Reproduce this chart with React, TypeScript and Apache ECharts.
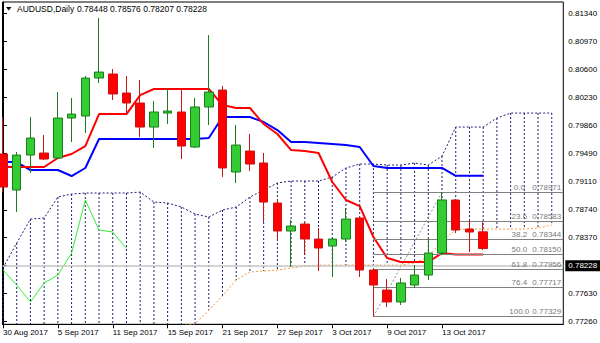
import React, { useEffect, useRef } from "react";
import * as echarts from "echarts";

const symbolName = "AUDUSD,Daily";

const dates = [
  "30 Aug 2017", "31 Aug 2017", "1 Sep 2017", "4 Sep 2017", "5 Sep 2017", "6 Sep 2017",
  "7 Sep 2017", "8 Sep 2017", "11 Sep 2017", "12 Sep 2017", "13 Sep 2017", "14 Sep 2017",
  "15 Sep 2017", "18 Sep 2017", "19 Sep 2017", "20 Sep 2017", "21 Sep 2017", "22 Sep 2017",
  "25 Sep 2017", "26 Sep 2017", "27 Sep 2017", "28 Sep 2017", "29 Sep 2017", "2 Oct 2017",
  "3 Oct 2017", "4 Oct 2017", "5 Oct 2017", "6 Oct 2017", "9 Oct 2017", "10 Oct 2017",
  "11 Oct 2017", "12 Oct 2017", "13 Oct 2017", "16 Oct 2017", "17 Oct 2017", "18 Oct 2017",
];

const opens = [
  0.79477, 0.79001, 0.79463, 0.7949, 0.79424, 0.79952, 0.79979, 0.80481, 0.80534, 0.80283,
  0.80151, 0.79833, 0.80018, 0.80032, 0.79569, 0.80098, 0.80322, 0.79239, 0.79516, 0.79358,
  0.78829, 0.78459, 0.78551, 0.78353, 0.78261, 0.78353, 0.78631, 0.77943, 0.77679, 0.77521,
  0.77745, 0.77877, 0.78168, 0.78869, 0.78485, 0.78448,
];
const closes = [
  0.7904, 0.79463, 0.79688, 0.7941, 0.79952, 0.80005, 0.80481, 0.8056, 0.8027, 0.80151,
  0.79833, 0.80032, 0.80045, 0.79582, 0.80098, 0.80296, 0.79292, 0.79595, 0.79344, 0.78842,
  0.78459, 0.78525, 0.78353, 0.78234, 0.78353, 0.78617, 0.77943, 0.77745, 0.77521, 0.77772,
  0.77877, 0.78168, 0.78869, 0.78472, 0.78446, 0.78228,
];
const lows = [
  0.78974, 0.7871, 0.79225, 0.79397, 0.7941, 0.79635, 0.79754, 0.80415, 0.8019, 0.80018,
  0.79701, 0.79556, 0.79873, 0.7941, 0.79556, 0.7986, 0.79173, 0.79093, 0.79252, 0.78578,
  0.78353, 0.77983, 0.78142, 0.7793, 0.77851, 0.78313, 0.77851, 0.77329, 0.77454, 0.77481,
  0.77705, 0.77811, 0.78142, 0.78432, 0.78181, 0.78207,
];
const highs = [
  0.79966, 0.79503, 0.79966, 0.79728, 0.80296, 0.80217, 0.80508, 0.81274, 0.806, 0.80508,
  0.80455, 0.80177, 0.80349, 0.80349, 0.80217, 0.81049, 0.80375, 0.7986, 0.79741, 0.7949,
  0.78882, 0.78604, 0.78578, 0.78499, 0.78366, 0.78763, 0.78644, 0.7797, 0.77824, 0.77838,
  0.78009, 0.78366, 0.78971, 0.78882, 0.78604, 0.78576,
];

const tenkan = [
  0.79305, 0.79305, 0.79305, 0.79305, 0.79424, 0.79477, 0.79582, 0.80005, 0.80005, 0.80005,
  0.80256, 0.80336, 0.80336, 0.80336, 0.80336, 0.80336, 0.80124, 0.80085, 0.80085, 0.79873,
  0.79741, 0.79529, 0.79516, 0.7949, 0.79107, 0.78869, 0.78789, 0.7838, 0.78102, 0.78049,
  0.78049, 0.78049, 0.78168, 0.7815, 0.7815, 0.7815,
];
const kijun = [
  0.79371, 0.79371, 0.79265, 0.79265, 0.79265, 0.79186, 0.79292, 0.79675, 0.79675, 0.79675,
  0.79675, 0.79675, 0.79675, 0.79675, 0.79675, 0.79688, 0.79966, 0.79966, 0.79966, 0.799,
  0.79794, 0.79635, 0.79635, 0.79622, 0.79609, 0.79595, 0.79569, 0.79318, 0.79292, 0.79292,
  0.79292, 0.79292, 0.79292, 0.79189, 0.79189, 0.79189,
];
const spanA = [
  0.7797, 0.783, 0.78617, 0.78631, 0.78908, 0.78948, 0.78961, 0.78961, 0.78961, 0.78961,
  0.78974, 0.78842, 0.78829, 0.78776, 0.78684, 0.78644, 0.78736, 0.78776, 0.78908, 0.79001,
  0.79093, 0.7912, 0.7912, 0.7912, 0.79173, 0.79292, 0.79344, 0.79344, 0.79331, 0.79331,
  0.79358, 0.79331, 0.7945, 0.79833, 0.79833, 0.79833, 0.79952, 0.80018, 0.80018, 0.80018,
  0.80018,
];
const spanB = [
  0.77, 0.77, 0.77, 0.77, 0.7705, 0.7705, 0.771, 0.771, 0.7712, 0.7712,
  0.7715, 0.7718, 0.772, 0.7721, 0.7723, 0.77415, 0.776, 0.77811, 0.77917, 0.7793,
  0.77943, 0.7797, 0.77996, 0.78009, 0.78009, 0.78009, 0.78009, 0.78009, 0.78009, 0.78009,
  0.78036, 0.78115, 0.78327, 0.78472, 0.78485, 0.78485, 0.78485, 0.78485, 0.78485, 0.78499,
  0.78538,
];
const chikouShift = 26;

const yTickValues = [0.7726, 0.7763, 0.78, 0.7837, 0.7874, 0.7911, 0.7949, 0.7986, 0.8023, 0.806, 0.8097, 0.8134];
const xLabelIndices = [0, 4, 8, 12, 16, 20, 24, 28, 32];

const fibLevels = ["0.0", "23.6", "38.2", "50.0", "61.8", "76.4", "100.0"];
const fibPrices = [0.78971, 0.78583, 0.78344, 0.7815, 0.77956, 0.77717, 0.77329];
const fibLowIndex = 27;
const fibHighIndex = 32;

const X_MIN = -0.036;
const X_MAX = 40.84;
const Y_MIN = 0.77226;
const Y_MAX = 0.81486;

export default function App() {
  const ref = useRef<HTMLDivElement>(null);
  useEffect(() => {
    const chart = echarts.init(ref.current!, null, { renderer: "svg" });
    const font = "'Liberation Sans', Arial, sans-serif";
    const n = dates.length;
    const last = n - 1;
    const lastPrice = closes[last];
    const candleData = dates.map((_, i) => [i, opens[i], closes[i], lows[i], highs[i]]);
    const cloudData = spanA.map((a, i) => [i, a, spanB[i]]);
    const chikouData = closes.slice(chikouShift).map((c, k) => [k, c]);
    const titleVals = [opens[last], highs[last], lows[last], closes[last]].map((v) => v.toFixed(5)).join(" ");

    chart.setOption({
      animation: false,
      backgroundColor: "#ffffff",
      grid: {
        left: 2.5,
        top: 2,
        right: 36.7,
        bottom: 18.7,
        containLabel: false,
        outerBoundsMode: "none",
        show: true,
        borderColor: "#000",
        borderWidth: 1,
      },
      graphic: [
        { type: "polygon", shape: { points: [[6, 7], [11.5, 7], [8.75, 10.5]] }, style: { fill: "#000" } },
        {
          type: "text",
          x: 17,
          y: 9,
          style: { text: symbolName, fontSize: 8.5, fontFamily: font, fill: "#000", verticalAlign: "middle" },
        },
        {
          type: "text",
          x: 77,
          y: 9,
          style: { text: titleVals, fontSize: 8.5, fontFamily: font, fill: "#000", verticalAlign: "middle" },
        },
      ],
      xAxis: {
        type: "value",
        min: X_MIN,
        max: X_MAX,
        axisLine: { show: true, lineStyle: { color: "#000" } },
        axisTick: { show: true, customValues: xLabelIndices, length: 4, lineStyle: { color: "#000" } },
        axisLabel: {
          customValues: xLabelIndices,
          formatter: (v: number) => dates[Math.round(v)] ?? "",
          align: "left",
          margin: 4,
          fontSize: 8,
          fontFamily: font,
          color: "#000",
        },
        splitLine: { show: false },
      },
      yAxis: {
        type: "value",
        position: "right",
        min: Y_MIN,
        max: Y_MAX,
        axisLine: { show: true, lineStyle: { color: "#000" } },
        axisTick: { show: true, customValues: yTickValues, length: 4, lineStyle: { color: "#000" } },
        axisLabel: {
          customValues: yTickValues,
          formatter: (v: number) => v.toFixed(5),
          margin: 5,
          fontSize: 8,
          fontFamily: font,
          color: "#000",
        },
        splitLine: { show: false },
      },
      series: [
        {
          type: "custom",
          name: "kumo",
          z: 1,
          silent: true,
          data: cloudData,
          encode: { x: 0, y: [1, 2] },
          renderItem: (params: any, api: any) => {
            const i = api.value(0);
            const p1 = api.coord([i, api.value(1)]);
            const p2 = api.coord([i, api.value(2)]);
            const cs = params.coordSys;
            if (p1[0] < cs.x || p1[0] > cs.x + cs.width) return null;
            const clamp = (y: number) => Math.max(cs.y, Math.min(cs.y + cs.height, y));
            return {
              type: "line",
              shape: { x1: p1[0], y1: clamp(p1[1]), x2: p1[0], y2: clamp(p2[1]) },
              style: { stroke: "#1c1c7a", lineWidth: 1, lineDash: [2, 2] },
            };
          },
        },
        {
          type: "line",
          name: "Senkou A",
          z: 2,
          data: spanA.map((v, i) => [i, v]),
          showSymbol: false,
          symbol: "none",
          lineStyle: { color: "#1c1c7a", width: 1, type: [2, 2] },
        },
        {
          type: "line",
          name: "Senkou B",
          z: 2,
          data: spanB.map((v, i) => [i, v]),
          showSymbol: false,
          symbol: "none",
          lineStyle: { color: "#f59a3c", width: 1, type: [2, 2] },
        },
        {
          type: "line",
          name: "Fibo",
          z: 3,
          data: [
            [fibLowIndex, lows[fibLowIndex]],
            [fibHighIndex, highs[fibHighIndex]],
          ],
          showSymbol: false,
          symbol: "none",
          lineStyle: { color: "#8a8a8a", width: 1, type: [2, 2] },
          markLine: {
            silent: true,
            symbol: ["none", "none"],
            animation: false,
            lineStyle: { color: "#808080", width: 1, type: "solid" },
            label: {
              show: true,
              position: "insideEndTop",
              distance: [2, 1],
              formatter: (p: any) =>
                `{a|${fibLevels[p.dataIndex]}}{b|${fibPrices[p.dataIndex].toFixed(5)}}`,
              rich: {
                a: { width: 26, align: "center", fontSize: 8, fontFamily: font, color: "#7a7a7a" },
                b: { width: 29, align: "left", fontSize: 8, fontFamily: font, color: "#7a7a7a" },
              },
            },
            data: fibPrices.map((p) => [{ coord: [fibLowIndex, p] }, { coord: [X_MAX, p] }]),
          },
        },
        {
          type: "line",
          name: "Bid",
          z: 3,
          data: [[last, lastPrice]],
          showSymbol: false,
          symbol: "none",
          lineStyle: { opacity: 0 },
          markLine: {
            silent: true,
            symbol: ["none", "none"],
            animation: false,
            lineStyle: { color: "#c4c4c4", width: 1.5, type: "solid" },
            label: {
              show: true,
              position: "end",
              distance: 2,
              formatter: lastPrice.toFixed(5),
              backgroundColor: "#000",
              color: "#fff",
              padding: [2, 3, 1, 3],
              fontSize: 8,
              fontFamily: font,
            },
            data: [{ yAxis: lastPrice }],
          },
        },
        {
          type: "line",
          name: "Chikou",
          z: 4,
          data: chikouData,
          showSymbol: false,
          symbol: "none",
          lineStyle: { color: "#33ee33", width: 1 },
        },
        {
          type: "line",
          name: "Kijun",
          z: 4,
          data: kijun.map((v, i) => [i, v]),
          showSymbol: false,
          symbol: "none",
          lineStyle: { color: "#0000ff", width: 2 },
        },
        {
          type: "line",
          name: "Tenkan",
          z: 4,
          data: tenkan.map((v, i) => [i, v]),
          showSymbol: false,
          symbol: "none",
          lineStyle: { color: "#ff0000", width: 2 },
        },
        {
          type: "candlestick",
          name: "AUDUSD",
          z: 5,
          barWidth: 9,
          data: candleData,
          itemStyle: {
            color: "#32cd32",
            color0: "#ff0000",
            borderColor: "#1d7a1d",
            borderColor0: "#c81414",
            borderWidth: 1,
          },
        },
      ],
    });
    return () => chart.dispose();
  }, []);
  return (
    <div
      ref={ref}
      style={{ position: "fixed", left: 0, top: 0, width: 600, height: 343, background: "#fff" }}
    />
  );
}
